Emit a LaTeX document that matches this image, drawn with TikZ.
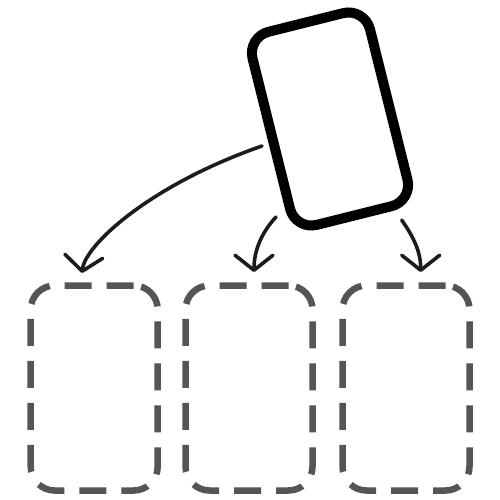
\documentclass[tikz,border=0pt]{standalone}
\usetikzlibrary{arrows.meta}
\definecolor{dashgray}{HTML}{555555}
\definecolor{ink}{HTML}{1C1C1C}
\begin{document}
\begin{tikzpicture}[x=1pt,y=-1pt,
  cardbox/.style={draw=black,line width=10pt,rounded corners=22pt,minimum width=121pt,minimum height=199pt,inner sep=0pt,rotate=14},
  slotbox/.style={draw=dashgray,line width=6.5pt,rounded corners=24pt,minimum width=127pt,minimum height=205pt,inner sep=0pt,dash pattern=on 27pt off 15pt},
  link/.style={draw=ink,line width=3.6pt,line cap=round,-{Straight Barb[length=15pt,width=38pt,round]}}]
\useasboundingbox (0,0) rectangle (500,500);
\node[slotbox] (b1) at (94.2,388) {};
\node[slotbox] (b2) at (249,388) {};
\node[slotbox] (b3) at (406,388) {};
\node[cardbox] (card) at (330,119) {};
\coordinate (s1) at (262,146);
\coordinate (s2) at (276,217);
\coordinate (s3) at (401.7,220);
\coordinate (t1) at (82,273);
\coordinate (t2) at (254,272);
\coordinate (t3) at (420.7,272);
\draw[link] (s1) .. controls (150,185) and (85,245) .. (t1);
\draw[link] (s2) .. controls (262,232) and (254,250) .. (t2);
\draw[link] (s3) .. controls (412,235) and (420.7,250) .. (t3);
\end{tikzpicture}
\end{document}
